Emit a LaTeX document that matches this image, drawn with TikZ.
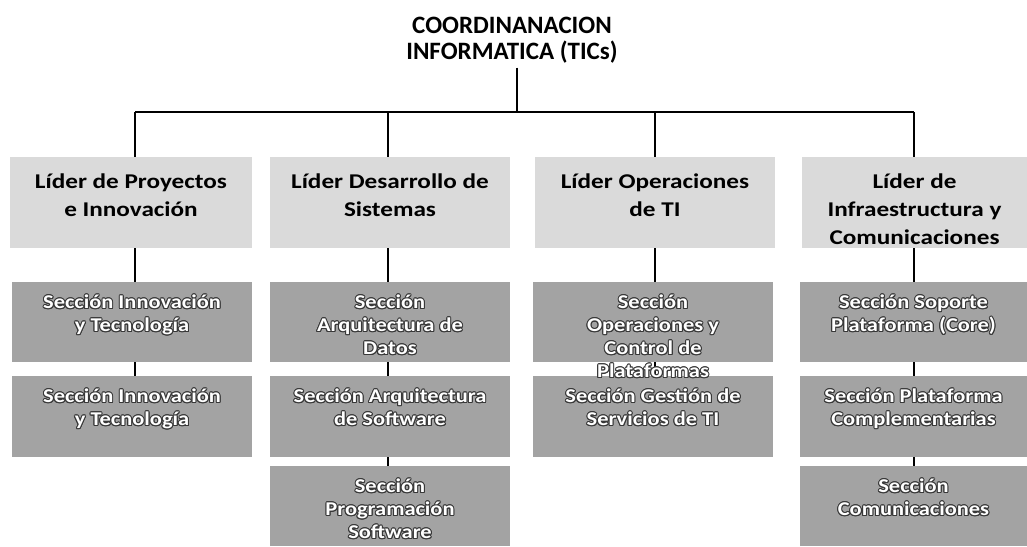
\documentclass[tikz,border=0pt]{standalone}
\usepackage{fontspec}
\setmainfont{Carlito}
\newfontfamily\leadfont[FakeStretch=1.2]{Carlito}
\newfontfamily\secfont[FakeStretch=1.15]{Carlito}
\usepackage{contour}
\contourlength{1pt}
\contournumber{12}
\definecolor{leadfill}{HTML}{DADADA}
\definecolor{secfill}{HTML}{A3A3A3}
\definecolor{secedge}{HTML}{383838}
\newcommand{\secline}[1]{\contour{secedge}{#1}}
\begin{document}
\begin{tikzpicture}[x=1pt,y=-1pt,
  leadbox/.style={fill=leadfill, draw=none, inner sep=0pt, outer sep=0pt},
  secbox/.style={fill=secfill, draw=none, inner sep=0pt, outer sep=0pt},
  titletxt/.style={font=\bfseries\fontsize{25}{24}\selectfont, align=center, inner sep=0pt, anchor=north, text=black},
  leadtxt/.style={font=\leadfont\bfseries\fontsize{21}{28}\selectfont, align=center, inner sep=0pt, anchor=north, text=black},
  sectxt/.style={font=\secfont\bfseries\fontsize{19.5}{23}\selectfont, align=center, inner sep=0pt, anchor=north, text=white},
  conn/.style={line width=1.8pt, black},
  busline/.style={line width=1.4pt, black}
]
\useasboundingbox (0,0) rectangle (1027,546);
\fill[white] (0,0) rectangle (1027,546);

% title
\node[titletxt] (T) at (512,16) {\strut COORDINANACION\\INFORMATICA (TICs)};

% leader boxes
\node[leadbox, minimum width=242pt, minimum height=91pt] (L1) at (131,202.5) {};
\node[leadbox, minimum width=240pt, minimum height=91pt] (L2) at (390,202.5) {};
\node[leadbox, minimum width=240pt, minimum height=91pt] (L3) at (655,202.5) {};
\node[leadbox, minimum width=225pt, minimum height=91pt] (L4) at (914.5,202.5) {};

% section boxes
\node[secbox, minimum width=240pt, minimum height=80pt] (S11) at (132,322) {};
\node[secbox, minimum width=240pt, minimum height=81pt] (S12) at (132,416.5) {};
\node[secbox, minimum width=240pt, minimum height=80pt] (S21) at (390,322) {};
\node[secbox, minimum width=240pt, minimum height=81pt] (S22) at (390,416.5) {};
\node[secbox, minimum width=240pt, minimum height=80pt] (S23) at (390,506) {};
\node[secbox, minimum width=240pt, minimum height=80pt] (S31) at (653,322) {};
\node[secbox, minimum width=240pt, minimum height=81pt] (S32) at (653,416.5) {};
\node[secbox, minimum width=227pt, minimum height=80pt] (S41) at (913.5,322) {};
\node[secbox, minimum width=227pt, minimum height=81pt] (S42) at (913.5,416.5) {};
\node[secbox, minimum width=227pt, minimum height=80pt] (S43) at (913.5,506) {};

% connector positions
\coordinate (bus) at (517,112);
\coordinate (x1) at (135,0);
\coordinate (x2) at (388,0);
\coordinate (x3) at (655,0);
\coordinate (x4) at (914,0);

\draw[conn] (T.south -| bus) ++(0,4) -- (bus);
\draw[busline] (x1 |- bus) -- (x4 |- bus);
\foreach \i in {1,2,3,4} {
  \draw[conn] (x\i |- bus) -- (x\i |- L\i.north);
  \draw[conn] (x\i |- L\i.south) -- (x\i |- S\i1.north);
  \draw[conn] (x\i |- S\i1.south) -- (x\i |- S\i2.north);
}
\draw[conn] (x2 |- S22.south) -- (x2 |- S23.north);
\draw[conn] (x4 |- S42.south) -- (x4 |- S43.north);

% leader texts
\node[leadtxt] (L1t) at ([yshift=-11.4pt]L1.north) {\strut Líder de Proyectos\\e Innovación};
\node[leadtxt] (L2t) at ([yshift=-11.4pt]L2.north) {\strut Líder Desarrollo de\\Sistemas};
\node[leadtxt] (L3t) at ([yshift=-11.4pt]L3.north) {\strut Líder Operaciones\\de TI};
\node[leadtxt] (L4t) at ([yshift=-11.4pt]L4.north) {\strut Líder de\\Infraestructura y\\Comunicaciones};

% section texts
\node[sectxt] (S11t) at ([yshift=-10.4pt]S11.north) {\strut\secline{Sección Innovación}\\\secline{y Tecnología}};
\node[sectxt] (S12t) at ([yshift=-10.4pt]S12.north) {\strut\secline{Sección Innovación}\\\secline{y Tecnología}};
\node[sectxt] (S21t) at ([yshift=-10.4pt]S21.north) {\strut\secline{Sección}\\\secline{Arquitectura de}\\\secline{Datos}};
\node[sectxt] (S22t) at ([yshift=-10.4pt]S22.north) {\strut\secline{Sección Arquitectura}\\\secline{de Software}};
\node[sectxt] (S23t) at ([yshift=-10.4pt]S23.north) {\strut\secline{Sección}\\\secline{Programación}\\\secline{Software}};
\node[sectxt] (S31t) at ([yshift=-10.4pt]S31.north) {\strut\secline{Sección}\\\secline{Operaciones y}\\\secline{Control de}\\\secline{Plataformas}};
\node[sectxt] (S32t) at ([yshift=-10.4pt]S32.north) {\strut\secline{Sección Gestión de}\\\secline{Servicios de TI}};
\node[sectxt] (S41t) at ([yshift=-10.4pt]S41.north) {\strut\secline{Sección Soporte}\\\secline{Plataforma (Core)}};
\node[sectxt] (S42t) at ([yshift=-10.4pt]S42.north) {\strut\secline{Sección Plataforma}\\\secline{Complementarias}};
\node[sectxt] (S43t) at ([yshift=-10.4pt]S43.north) {\strut\secline{Sección}\\\secline{Comunicaciones}};
\end{tikzpicture}
\end{document}
